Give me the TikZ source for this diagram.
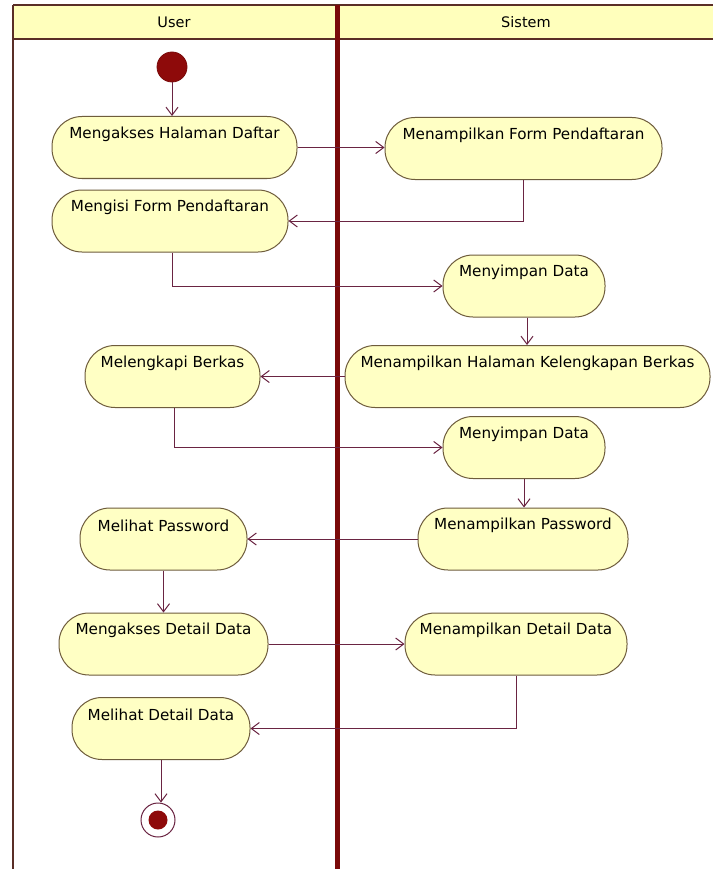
\documentclass[tikz,border=0pt]{standalone}
\usepackage{fontspec}
\setmainfont{DejaVu Sans}
\usetikzlibrary{arrows.meta}

\definecolor{actfill}{HTML}{FFFFC4}
\definecolor{actline}{HTML}{6E5C3C}
\definecolor{flow}{HTML}{6A2442}
\definecolor{lanered}{HTML}{7A0A0A}
\definecolor{laneedge}{HTML}{5A2E26}
\definecolor{headfill}{HTML}{FFFFBC}
\definecolor{dotred}{HTML}{8E0A0A}

\tikzset{
  act/.style={draw=actline, fill=actfill, line width=1pt, rectangle,
              rounded corners=30pt, minimum height=62pt, inner sep=0pt},
  actlabel/.style={anchor=center, inner sep=0pt, yshift=-18pt,
                   font=\fontsize{15.2}{17}\selectfont},
  flowline/.style={draw=flow, line width=1pt,
                   -{Straight Barb[length=8pt,width=12pt,line width=1pt]}},
  lanetitle/.style={font=\fontsize{14.5}{16}\selectfont, inner sep=0pt},
  startdot/.style={circle, fill=dotred, draw=lanered, line width=0.8pt,
                   minimum size=30pt, inner sep=0pt},
}

\begin{document}
\begin{tikzpicture}[x=1pt, y=-1pt]
  \useasboundingbox (0,0) rectangle (713,869);
  \fill[white] (0,0) rectangle (713,869);

  % swimlane headers and borders
  \fill[headfill] (13,5) rectangle (713,39);
  \draw[laneedge, line width=2.5pt] (13,5) -- (713,5);
  \draw[laneedge, line width=2.5pt] (13,39) -- (713,39);
  \draw[laneedge, line width=2.5pt] (13,5) -- (13,869);
  \draw[lanered, line width=5pt] (337,5) -- (337,869);
  \node[lanetitle] (userlane) at (174,22) {User};
  \node[lanetitle] (syslane) at (526,22) {Sistem};

  % start and final nodes
  \node[startdot] (start) at (172,67) {};
  \node[circle, draw=flow, line width=1pt, fill=white, minimum size=34pt, inner sep=0pt] (final) at (158,820) {};
  \node[circle, fill=dotred, minimum size=19pt, inner sep=0pt] (finaldot) at (final.center) {};

  % activities
  \node[act, minimum width=245pt, label={[actlabel]north:Mengakses Halaman Daftar}] (mhd) at (174.5,147.5) {};
  \node[act, minimum width=277pt, label={[actlabel]north:Menampilkan Form Pendaftaran}] (mfp) at (523.5,148.5) {};
  \node[act, minimum width=236pt, label={[actlabel]north:Mengisi Form Pendaftaran}] (mif) at (170,221) {};
  \node[act, minimum width=162pt, label={[actlabel]north:Menyimpan Data}] (msd1) at (524,286) {};
  \node[act, minimum width=365pt, label={[actlabel]north:Menampilkan Halaman Kelengkapan Berkas}] (mhk) at (527.5,376.5) {};
  \node[act, minimum width=175pt, label={[actlabel]north:Melengkapi Berkas}] (mlb) at (172.5,376.5) {};
  \node[act, minimum width=162pt, label={[actlabel]north:Menyimpan Data}] (msd2) at (524,447.5) {};
  \node[act, minimum width=210pt, label={[actlabel]north:Menampilkan Password}] (mpw) at (523,539) {};
  \node[act, minimum width=167pt, label={[actlabel]north:Melihat Password}] (lpw) at (163.5,539) {};
  \node[act, minimum width=209pt, label={[actlabel]north:Mengakses Detail Data}] (mdd) at (163.5,644) {};
  \node[act, minimum width=222pt, label={[actlabel]north:Menampilkan Detail Data}] (tdd) at (516,644) {};
  \node[act, minimum width=178pt, label={[actlabel]north:Melihat Detail Data}] (ldd) at (161,728.5) {};

  % control flows
  \draw[flowline] (start.south) -- (start.south |- mhd.north);
  \draw[flowline] (mhd.east) -- (mhd.east -| mfp.west);
  \draw[flowline] (mfp.south) |- (mif.east);
  \draw[flowline] ([xshift=2pt]mif.south) |- (msd1.west);
  \draw[flowline] ([xshift=3pt]msd1.south) -- ([xshift=3pt]msd1.south |- mhk.north);
  \draw[flowline] (mhk.west) -- (mhk.west -| mlb.east);
  \draw[flowline] ([xshift=2pt]mlb.south) |- (msd2.west);
  \draw[flowline] (msd2.south) -- (msd2.south |- mpw.north);
  \draw[flowline] (mpw.west) -- (mpw.west -| lpw.east);
  \draw[flowline] (lpw.south) -- (lpw.south |- mdd.north);
  \draw[flowline] (mdd.east) -- (mdd.east -| tdd.west);
  \draw[flowline] (tdd.south) |- (ldd.east);
  \draw[flowline] (ldd.south) -- (ldd.south |- final.north);
\end{tikzpicture}
\end{document}
